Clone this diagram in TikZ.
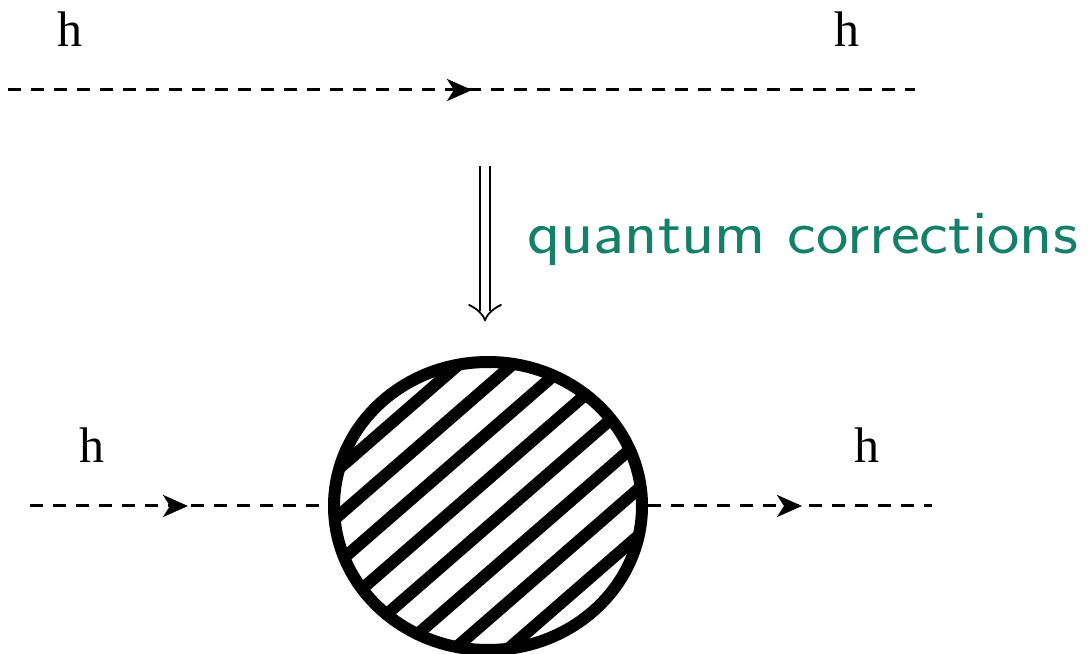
\documentclass[tikz,border=0pt]{standalone}
\usepackage{fontspec}
\setmainfont{Liberation Serif}
\usetikzlibrary{arrows.meta,decorations.markings,shapes.geometric,calc}
\definecolor{qcteal}{RGB}{20,128,104}
\tikzset{
  lbl/.style={font=\fontsize{50}{55}\selectfont, inner sep=0pt, anchor=base},
  prop/.style={line width=3pt, dash pattern=on 13pt off 10pt},
  midarrow/.style={postaction={decorate}, decoration={markings,
     mark=at position #1 with {\arrow[solid]{Stealth[length=25pt,width=22pt,inset=7pt]}}}},
  blobstyle/.style={ellipse, draw, line width=12pt, minimum width=308pt, minimum height=288pt, inner sep=0pt},
  implies/.style={line width=1.8pt, line cap=round},
}
\begin{document}
\begin{tikzpicture}[x=1pt,y=1pt]
\useasboundingbox (0,0) rectangle (1091,653);
% top propagator
\node[lbl] (h1) at (70,606) {h};
\node[lbl] (h2) at (847,606) {h};
\coordinate (t1) at (8,563);
\coordinate (t2) at (915,563);
\draw[prop, midarrow=464pt] (t1) -- (t2);
% quantum corrections arrow
\coordinate (a1) at (485,487);
\coordinate (a2) at (485,333);
\draw[line width=1.8pt, double distance=8pt] (a1) -- ($(a2)+(0,9)$);
\draw[implies] ($(a2)+(-16,15)$) .. controls ($(a2)+(-7,11)$) and ($(a2)+(-2,5)$) .. (a2)
   .. controls ($(a2)+(2,5)$) and ($(a2)+(7,11)$) .. ($(a2)+(16,15)$);
\node[anchor=base west, inner sep=0pt, text=qcteal, font=\sffamily\fontsize{62}{68}\selectfont] (qc) at (527,399) {\scalebox{1.11}[1]{quantum corrections}};
% blob
\node[blobstyle, path picture={
  \begin{scope}[shift={(path picture bounding box.center)}]
  \foreach \k in {0,...,7}{
    \pgfmathsetmacro{\hoff}{126-\k*35.3}
    \pgfmathsetmacro{\xa}{-260*cos(41)-\hoff*sin(41)}
    \pgfmathsetmacro{\ya}{-260*sin(41)+\hoff*cos(41)}
    \pgfmathsetmacro{\xb}{260*cos(41)-\hoff*sin(41)}
    \pgfmathsetmacro{\yb}{260*sin(41)+\hoff*cos(41)}
    \draw[line width=12pt] (\xa,\ya) -- (\xb,\yb);
  }
  \end{scope}
}] (blob) at (488,147) {};
% bottom propagators
\node[lbl] (h3) at (92,190) {h};
\node[lbl] (h4) at (867,190) {h};
\coordinate (b1) at (30,147);
\coordinate (b2) at (932,147);
\draw[prop, midarrow=158pt] (b1) -- (blob.west);
\draw[prop, midarrow=154pt] (blob.east) -- (b2);
\end{tikzpicture}
\end{document}
